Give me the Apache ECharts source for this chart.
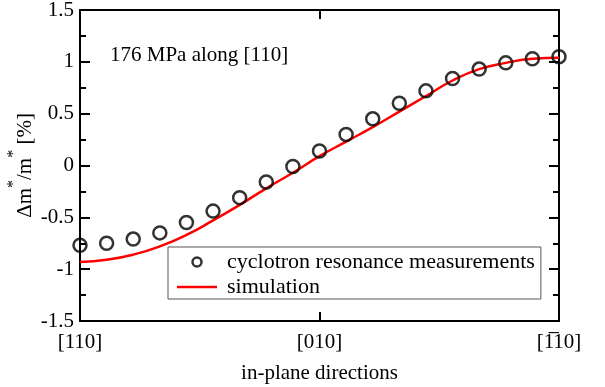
<!DOCTYPE html>
<html>
<head>
<meta charset="utf-8">
<script src="https://cdn.jsdelivr.net/npm/echarts@6/dist/echarts.min.js"></script>
<style>
  html, body { margin: 0; padding: 0; background: #fff; }
  #chart { width: 605px; height: 387px; }
</style>
</head>
<body>
<div id="chart"></div>
<script>
// angle in the plane, degrees from [110] to [-110]
const ANGLES = [0, 10, 20, 30, 40, 50, 60, 70, 80, 90, 100, 110, 120, 130, 140, 150, 160, 170, 180];
const MEASURED = [-0.77, -0.75, -0.71, -0.65, -0.55, -0.44, -0.31, -0.16, -0.01, 0.14, 0.30, 0.45, 0.60, 0.72, 0.84, 0.93, 0.99, 1.03, 1.05];
const SIMULATED = [-0.93, -0.91, -0.86, -0.78, -0.67, -0.53, -0.38, -0.22, -0.07, 0.09, 0.23, 0.37, 0.52, 0.67, 0.82, 0.93, 0.99, 1.03, 1.04];
const X_TICK_LABELS = { 0: "[110]", 90: "[010]", 180: "[1\u030510]" };

const FONT = "Liberation Serif";

function main() {
  const chart = echarts.init(document.getElementById("chart"));

  const commonY = {
    type: "value",
    min: -1.5,
    max: 1.5,
    interval: 0.5,
    axisLine: { show: true, onZero: false, lineStyle: { color: "#000", width: 2 } },
    axisTick: { show: true, inside: true, length: 10, lineStyle: { color: "#000", width: 2 } },
    minorTick: { show: true, splitNumber: 2, length: 6, lineStyle: { color: "#000", width: 2 } },
    splitLine: { show: false },
  };
  const commonX = {
    type: "value",
    min: 0,
    max: 180,
    interval: 90,
    axisLine: { show: true, onZero: false, lineStyle: { color: "#000", width: 2 } },
    axisTick: { show: true, inside: true, length: 9, lineStyle: { color: "#000", width: 2 } },
    splitLine: { show: false },
  };

  const option = {
    animation: false,
    textStyle: { fontFamily: FONT },
    grid: { left: 80, top: 10, right: 46, bottom: 66, outerBoundsMode: "none" },
    xAxis: [
      {
        ...commonX,
        position: "bottom",
        axisLabel: {
          color: "#000",
          fontFamily: FONT,
          fontSize: 21,
          margin: 11,
          formatter: (v) => X_TICK_LABELS[v] || "",
        },
        name: "in-plane directions",
        nameLocation: "middle",
        nameGap: 42,
        nameMoveOverlap: false,
        nameTextStyle: { color: "#000", fontFamily: FONT, fontSize: 21 },
      },
      { ...commonX, position: "top", axisLabel: { show: false } },
    ],
    yAxis: [
      {
        ...commonY,
        position: "left",
        axisLabel: { color: "#000", fontFamily: FONT, fontSize: 21, margin: 6 },
        name: "{t|\u0394m}{s|*}{t|/m}{s|*}{t| [%]}",
        nameLocation: "middle",
        nameGap: 44,
        nameMoveOverlap: false,
        nameRotate: 90,
        nameTextStyle: {
          color: "#000",
          fontFamily: FONT,
          fontSize: 21,
          rich: {
            t: { fontFamily: FONT, fontSize: 21, color: "#000", lineHeight: 30, verticalAlign: "bottom" },
            s: { fontFamily: FONT, fontSize: 16, color: "#000", lineHeight: 30, verticalAlign: "top" },
          },
        },
      },
      { ...commonY, position: "right", axisLabel: { show: false } },
    ],
    legend: {
      left: 168,
      top: 247,
      orient: "vertical",
      padding: [4, 6, 1, 9],
      itemGap: 3,
      itemWidth: 40,
      itemHeight: 9,
      borderColor: "#555",
      borderWidth: 1,
      backgroundColor: "#fff",
      textStyle: { color: "#000", fontFamily: FONT, fontSize: 22, padding: [0, 0, 0, 5] },
      data: [
        { name: "cyclotron resonance measurements", icon: "circle",
          itemStyle: { color: "transparent", borderColor: "#000", borderWidth: 2.5 } },
        { name: "simulation", icon: "path://M0,0 H40 V2.5 H0 Z",
          itemStyle: { color: "#f00", borderWidth: 0 } },
      ],
    },
    graphic: [
      {
        type: "text",
        left: 110,
        top: 45,
        style: { text: "176 MPa along [110]", fill: "#000", font: "21px " + FONT },
      },
    ],
    series: [
      {
        name: "simulation",
        type: "line",
        data: ANGLES.map((a, i) => [a, SIMULATED[i]]),
        smooth: true,
        showSymbol: false,
        symbol: "none",
        lineStyle: { color: "#f00", width: 2.5 },
        itemStyle: { color: "#f00" },
        z: 2,
      },
      {
        name: "cyclotron resonance measurements",
        type: "scatter",
        data: ANGLES.map((a, i) => [a, MEASURED[i]]),
        symbol: "circle",
        symbolSize: 13,
        itemStyle: { color: "transparent", borderColor: "#000", borderWidth: 2.5 },
        z: 3,
      },
    ],
  };

  chart.setOption(option);
}

document.addEventListener("DOMContentLoaded", function () {
  main();
});
</script>
</body>
</html>
